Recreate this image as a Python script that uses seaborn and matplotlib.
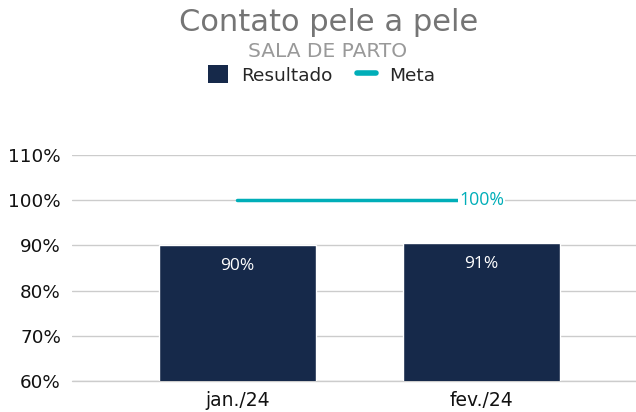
import pandas as pd
import matplotlib.pyplot as plt
import seaborn as sns
from matplotlib.patches import Patch
from matplotlib.lines import Line2D

# chart data
meses = ['jan./24', 'fev./24']
resultado = [0.901, 0.906]
meta = [1.00, 1.00]
yticks = [0.6, 0.7, 0.8, 0.9, 1.0, 1.1]

cor_barra = '#16294a'
cor_meta = '#00aeb8'

df = pd.DataFrame({'Mes': meses, 'Resultado': resultado, 'Meta': meta})

sns.set_style('white')
plt.rcParams['font.family'] = ['DejaVu Sans']

fig = plt.figure(figsize=(6.36, 4.12), dpi=100)
ax = fig.add_axes([0.1132, 0.0752, 0.8868, 0.5486])

sns.barplot(data=df, x='Mes', y='Resultado', color=cor_barra, width=0.64,
            saturation=1, ax=ax, zorder=3)
sns.lineplot(x=[0, 1], y=df['Meta'], color=cor_meta, linewidth=2.5, ax=ax, zorder=4)

ax.set_ylim(0.6, 1.1)
ax.set_xlim(-0.678, 1.633)
ax.set_yticks(yticks)
ax.set_yticklabels([f'{int(round(v * 100))}%' for v in yticks], fontsize=13.2, color='#111111')
ax.set_xticks([0, 1])
ax.set_xticklabels(meses, fontsize=13.5, color='#111111')
ax.tick_params(axis='y', length=0, pad=8)
ax.tick_params(axis='x', length=0, pad=7)
ax.set_xlabel('')
ax.set_ylabel('')
ax.grid(axis='y', color='#cccccc', linewidth=1, zorder=0)
ax.axhline(0.6, color='#cccccc', linewidth=1, clip_on=False, zorder=0)
ax.set_axisbelow(True)
for s in ax.spines.values():
    s.set_visible(False)

# data labels
for i, v in enumerate(resultado):
    ax.text(i, v - 0.047, f'{round(v * 100):.0f}%', ha='center', va='center',
            color='white', fontsize=12.5, family='Open Sans', zorder=5)
ax.text(1, meta[1], f'{round(meta[1] * 100):.0f}%', ha='center', va='center',
        color=cor_meta, fontsize=12.8, family='Open Sans', zorder=5,
        bbox=dict(facecolor='white', edgecolor='none', pad=1))

# titles
fig.text(0.517, 0.945, 'Contato pele a pele', ha='center', va='center',
         fontsize=22, color='#757575')
fig.text(0.515, 0.876, 'SALA DE PARTO', ha='center', va='center',
         fontsize=14.5, color='#999999')

handles = [Patch(facecolor=cor_barra, edgecolor='none', label='Resultado'),
           Line2D([0], [0], color=cor_meta, linewidth=4, label='Meta')]
fig.legend(handles=handles, loc='center', bbox_to_anchor=(0.506, 0.818), ncol=2,
           frameon=False, fontsize=13.3, handlelength=1.05, handleheight=1.1,
           columnspacing=1.35, handletextpad=0.7)

fig.savefig('out.png', dpi=100)
